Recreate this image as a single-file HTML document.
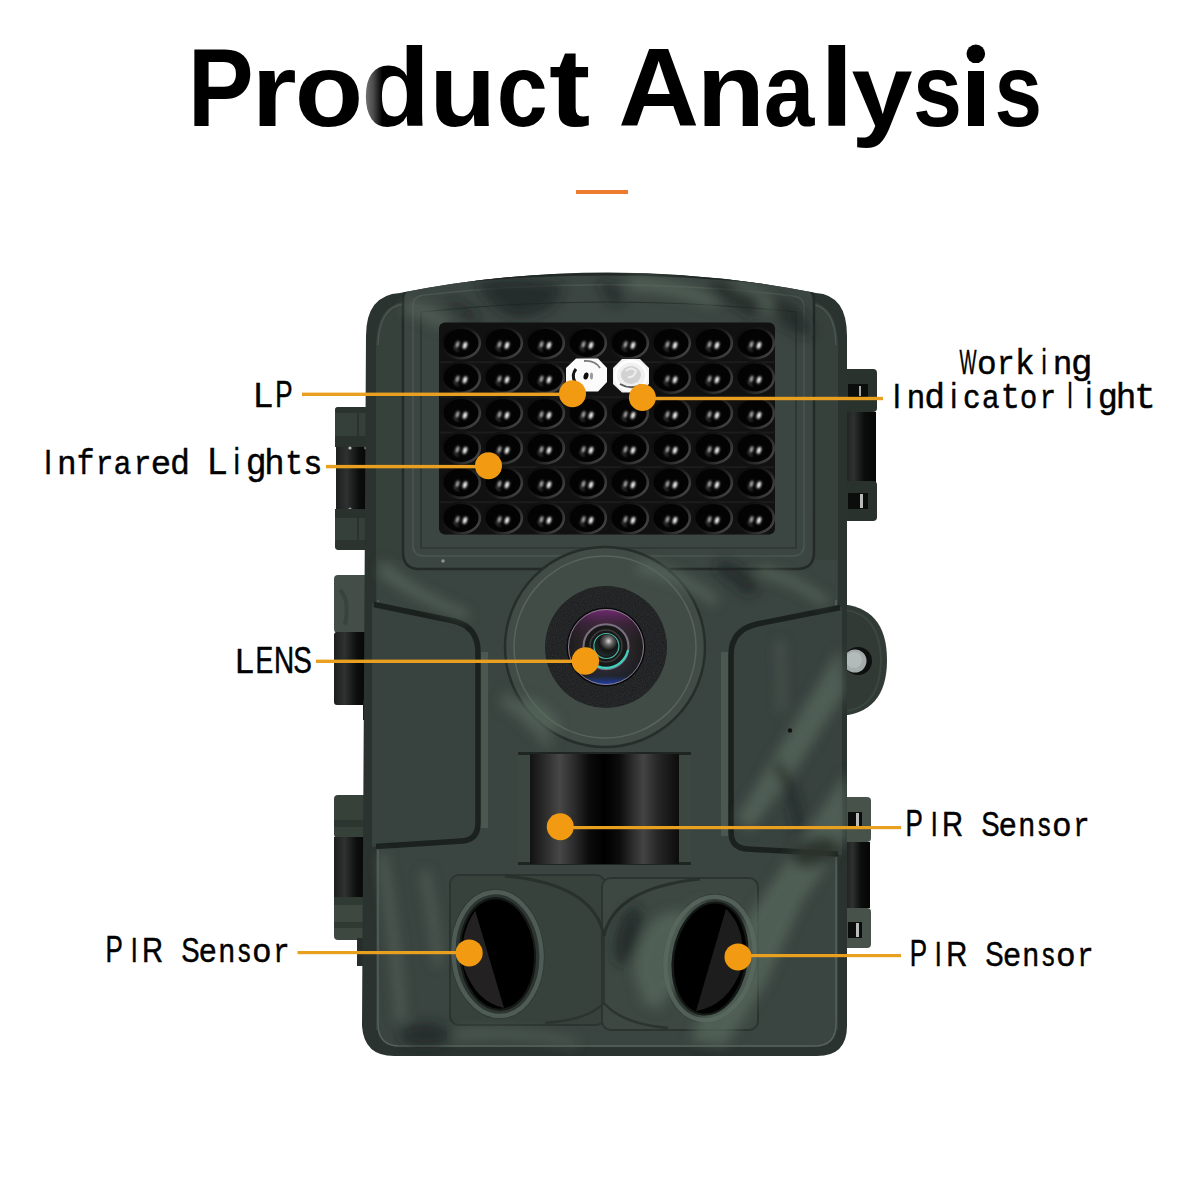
<!DOCTYPE html>
<html><head><meta charset="utf-8"><title>Product Analysis</title>
<style>
html,body{margin:0;padding:0;background:#fff;width:1200px;height:1200px;overflow:hidden}
svg{display:block}
text{font-family:"Liberation Sans",sans-serif}
</style></head><body>
<svg width="1200" height="1200" viewBox="0 0 1200 1200">
<defs>
  <linearGradient id="cyl" x1="0" x2="1" y1="0" y2="0">
    <stop offset="0" stop-color="#121212"/><stop offset="0.08" stop-color="#262626"/>
    <stop offset="0.2" stop-color="#474747"/><stop offset="0.3" stop-color="#2a2a2a"/>
    <stop offset="0.4" stop-color="#0a0a0a"/><stop offset="0.5" stop-color="#000"/>
    <stop offset="0.6" stop-color="#0c0c0c"/><stop offset="0.7" stop-color="#303030"/>
    <stop offset="0.76" stop-color="#444"/><stop offset="0.86" stop-color="#262626"/>
    <stop offset="1" stop-color="#0c0c0c"/>
  </linearGradient>
  <linearGradient id="hcyl" x1="0" x2="1" y1="0" y2="0">
    <stop offset="0" stop-color="#1c1f1e"/><stop offset="0.3" stop-color="#2d3130"/>
    <stop offset="0.65" stop-color="#0b0c0c"/><stop offset="1" stop-color="#050505"/>
  </linearGradient>
  <radialGradient id="led" cx="0.5" cy="0.5" r="0.5">
    <stop offset="0" stop-color="#000"/><stop offset="0.8" stop-color="#040404"/>
    <stop offset="0.9" stop-color="#353535"/><stop offset="1" stop-color="#0e0e0e"/>
  </radialGradient>
  <radialGradient id="glass" cx="0.5" cy="0.5" r="0.5">
    <stop offset="0" stop-color="#242021"/><stop offset="0.55" stop-color="#2c2729"/>
    <stop offset="1" stop-color="#1c1a1c"/>
  </radialGradient>
  <linearGradient id="glassTint" x1="0" x2="0" y1="0" y2="1">
    <stop offset="0" stop-color="#8a2f8a" stop-opacity="0.8"/>
    <stop offset="0.2" stop-color="#6a2a6a" stop-opacity="0.3"/>
    <stop offset="0.45" stop-color="#403038" stop-opacity="0.0"/>
    <stop offset="0.88" stop-color="#1a50a0" stop-opacity="0.1"/>
    <stop offset="1" stop-color="#2040d0" stop-opacity="0.9"/>
  </linearGradient>
  <radialGradient id="sphere" cx="0.6" cy="0.3" r="0.7">
    <stop offset="0" stop-color="#d8d8d8"/><stop offset="0.25" stop-color="#6a6a6a"/>
    <stop offset="0.6" stop-color="#151515"/><stop offset="1" stop-color="#1e2a28"/>
  </radialGradient>
  <linearGradient id="ring" x1="0" y1="0.2" x2="1" y2="0.8">
    <stop offset="0" stop-color="#0c0c0c"/><stop offset="0.5" stop-color="#181818"/><stop offset="0.8" stop-color="#333"/><stop offset="1" stop-color="#474747"/>
  </linearGradient>
  <filter id="sb" x="-80%" y="-80%" width="260%" height="260%"><feGaussianBlur stdDeviation="0.85"/></filter>
  <radialGradient id="foam" cx="0.5" cy="0.5" r="0.5">
    <stop offset="0.6" stop-color="#000"/><stop offset="0.85" stop-color="#2a2c2c"/><stop offset="1" stop-color="#000"/>
  </radialGradient>
  <linearGradient id="dgrad" gradientUnits="userSpaceOnUse" x1="0" y1="0" x2="16" y2="0">
    <stop offset="0" stop-color="#6e6e6e"/><stop offset="0.45" stop-color="#4a4a4a"/><stop offset="1" stop-color="#000"/>
  </linearGradient>
  <filter id="wb" x="-20%" y="-20%" width="140%" height="140%"><feGaussianBlur stdDeviation="0.6"/></filter>
  <filter id="noise" x="0" y="0" width="100%" height="100%">
    <feTurbulence type="fractalNoise" baseFrequency="0.9" numOctaves="2" seed="3" result="n"/>
    <feColorMatrix type="matrix" values="0 0 0 0 1  0 0 0 0 1  0 0 0 0 1  0 0 0 1.2 -0.3" in="n" result="a"/>
    <feComposite in="a" in2="SourceGraphic" operator="in"/>
  </filter>
  <filter id="blur6" x="-20%" y="-20%" width="140%" height="140%"><feGaussianBlur stdDeviation="6"/></filter>
  <filter id="blur3" x="-20%" y="-20%" width="140%" height="140%"><feGaussianBlur stdDeviation="3"/></filter>
  <clipPath id="bodyClip">
    <path d="M366 336 Q366 295 400 293 Q608 252 816 293 Q847 295 847 336 L847 1026 Q847 1056 817 1056 L394 1056 Q364 1056 362 1026 Z"/>
  </clipPath>
</defs>

<!-- Title -->
<g font-size="112" font-weight="bold">
<text transform="translate(194.90 126) scale(0.8825 1)" x="-8" y="0" fill="#000">P</text>
<text transform="translate(258.75 126) scale(1.0357 0.933)" x="-7" y="0" fill="#000">r</text>
<text transform="translate(298.75 126) scale(1.0000 0.933)" x="-4" y="0" fill="#000">o</text>
<text transform="translate(366.25 126) scale(1.0045 1)" x="-5" y="0" fill="url(#dgrad)">d</text>
<text transform="translate(436.25 126) scale(0.9722 0.933)" x="-7" y="0" fill="#000">u</text>
<text transform="translate(500.00 126) scale(0.8182 0.933)" x="-4" y="0" fill="#000">c</text>
<text transform="translate(550.00 126) scale(1.1071 1)" x="-1" y="0" fill="#000">t</text>
<text transform="translate(621.25 126) scale(1.0000 1)" x="-3" y="0" fill="#000">A</text>
<text transform="translate(703.75 126) scale(0.9954 0.933)" x="-7" y="0" fill="#000">n</text>
<text transform="translate(766.25 126) scale(0.8125 0.933)" x="-3" y="0" fill="#000">a</text>
<text transform="translate(828.75 126) scale(1.0833 1)" x="-8" y="0" fill="#000">l</text>
<text transform="translate(852.50 126) scale(0.9792 0.933)" x="-1" y="0" fill="#000">y</text>
<text transform="translate(916.25 126) scale(0.7870 0.933)" x="-4" y="0" fill="#000">s</text>
<rect x="968" y="71" width="16" height="55" fill="#000"/><circle cx="975.8" cy="53.8" r="9.3" fill="#000"/>
<text transform="translate(997.50 126) scale(0.7639 0.933)" x="-4" y="0" fill="#000">s</text>
</g>
<rect x="576" y="190" width="52" height="4" fill="#ef7b2e"/>

<!-- CAMERA -->
<g id="camera">
  <!-- left hinges -->
  <rect x="335" y="407" width="44" height="41" rx="4" fill="#35403a"/>
  <rect x="335" y="407" width="44" height="6" rx="3" fill="#2a332e"/>
  <rect x="335" y="436" width="44" height="11" fill="#29322d"/>
  <rect x="357" y="413" width="2" height="23" fill="#29322d"/>
  <rect x="336" y="447" width="36" height="63" fill="url(#hcyl)"/>
  <circle cx="350" cy="448" r="1.6" fill="#bbb"/><circle cx="366" cy="448" r="1.6" fill="#bbb"/>
  <circle cx="350" cy="509" r="1.6" fill="#999"/>
  <rect x="335" y="509" width="44" height="41" rx="4" fill="#35403a"/>
  <rect x="335" y="509" width="44" height="9" fill="#29322d"/>
  <rect x="357" y="518" width="2" height="22" fill="#29322d"/>
  <rect x="335" y="540" width="44" height="10" rx="4" fill="#2b342f"/>

  <rect x="334" y="575" width="40" height="58" rx="4" fill="#444e48"/>
  <path d="M340 590 Q350 600 345 625" stroke="#39433e" stroke-width="4" fill="none"/>
  <rect x="334" y="632" width="36" height="73" rx="3" fill="url(#hcyl)"/>
  <rect x="363" y="700" width="6" height="20" fill="#1a1d1c"/>

  <rect x="334" y="795" width="42" height="43" rx="4" fill="#36413a"/>
  <rect x="334" y="820" width="42" height="7" fill="#2c3630"/>
  <rect x="334" y="837" width="36" height="61" fill="url(#hcyl)"/>
  <rect x="334" y="897" width="42" height="43" rx="4" fill="#3d4841"/>
  <rect x="334" y="897" width="42" height="8" fill="#2f3a33"/>
  <rect x="334" y="922" width="42" height="6" fill="#2f3a33"/>
  <rect x="357" y="938" width="10" height="28" fill="#262d2a"/>

  <!-- right hinges -->
  <rect x="836" y="369" width="41" height="43" rx="4" fill="#2a322d"/>
  <rect x="848" y="384" width="20" height="14" fill="#0b0c0c"/>
  <rect x="859" y="386" width="2" height="10" fill="#aaa"/>
  <rect x="844" y="412" width="32" height="70" fill="url(#hcyl)"/>
  <rect x="836" y="481" width="41" height="40" rx="4" fill="#2a322d"/>
  <rect x="848" y="493" width="20" height="16" fill="#0b0c0c"/>
  <rect x="860" y="494" width="3" height="14" fill="#bbb"/>

  <path d="M838 604 Q887 606 887 660 Q887 714 838 716 Z" fill="#313a35"/>
  <path d="M845 610 Q880 614 881 660 Q880 708 845 711" fill="none" stroke="#3c4640" stroke-width="2"/>
  <circle cx="858" cy="661" r="14" fill="#0e0f0f"/>
  <circle cx="855" cy="661" r="11.5" fill="#a3acab"/>
  <circle cx="854" cy="660" r="8" fill="#b3bbba"/>

  <rect x="842" y="797" width="29" height="45" rx="4" fill="#46524a"/>
  <rect x="848" y="812" width="14" height="16" fill="#0b0c0c"/>
  <rect x="856" y="813" width="3" height="14" fill="#bbb"/>
  <rect x="845" y="842" width="25" height="66" fill="url(#hcyl)"/>
  <rect x="842" y="908" width="29" height="40" rx="4" fill="#46524a"/>
  <rect x="848" y="922" width="14" height="16" fill="#0b0c0c"/>
  <rect x="856" y="923" width="3" height="14" fill="#bbb"/>

  <!-- outer body -->
  <path d="M366 336 Q366 295 400 293 Q608 252 816 293 Q847 295 847 336 L847 1026 Q847 1056 817 1056 L394 1056 Q364 1056 362 1026 Z" fill="#2b3330"/>

  <g clip-path="url(#bodyClip)">
    <!-- ===== plastic layer ===== -->
    <path d="M376 345 Q377 304 405 302 L810 302 Q837 304 838 345 L838 1030 L376 1030 Z" fill="#37413c"/>
    <path d="M378 345 Q379 306 405 304" fill="none" stroke="#4a5550" stroke-width="1.5"/>
    <path d="M836 345 Q835 306 810 304" fill="none" stroke="#4a5550" stroke-width="1.5"/>
    <path d="M378 560 L837 560 L837 1024 Q837 1047 814 1047 L401 1047 Q378 1047 378 1024 Z" fill="#3a4440"/>
    <path d="M378 600 L378 1024 Q378 1046 400 1046 L814 1046 Q836 1046 836 1024 L836 600" fill="none" stroke="#56615b" stroke-width="1.5"/>
    <!-- top front cover -->
    <path d="M403 300 Q403 287 416 286 Q608 262 801 287 Q814 288 814 301 L814 552 Q814 569 797 569 L419 569 Q403 569 403 552 Z" fill="#3b4541" stroke="#232a27" stroke-width="2.5"/>
    <path d="M413 306 Q413 296 424 295 Q608 274 793 296 Q804 297 804 307 L804 545 Q804 556 793 556 L424 556 Q413 556 413 545 Z" fill="none" stroke="#4b5650" stroke-width="1.5"/>
    <path d="M421 312 Q608 292 796 312 L796 548 L421 548 Z" fill="none" stroke="#29302c" stroke-width="1.2"/>
    <!-- wings -->
    <path d="M484 652 L484 828" stroke="#4b5751" stroke-width="8" fill="none"/>
    <path d="M725 652 L725 836" stroke="#4b5751" stroke-width="8" fill="none"/>
    <path d="M372 604 L454 621 Q478 627 478 652 L478 823 Q478 840 462 841 L372 847 Z" fill="#38423f"/>
    <path d="M374 604.5 L454 621 Q478 627 478 652 L478 823 Q478 840 462 841 L376 846.5" fill="none" stroke="#1b211e" stroke-width="5.5"/>
    <path d="M842 607 L757 624 Q731 630 731 655 L731 832 Q731 848 747 849 L842 855 Z" fill="#38423f"/>
    <path d="M840 607.5 L757 624 Q731 630 731 655 L731 832 Q731 848 747 849 L838 854" fill="none" stroke="#1b211e" stroke-width="5.5"/>
    <!-- lens housing -->
    <circle cx="605" cy="647" r="100" fill="#414c47" stroke="#262e2b" stroke-width="2.5"/>
    <circle cx="605" cy="647" r="91" fill="none" stroke="#57635c" stroke-width="1.5"/>
    <!-- PIR recess -->
    <rect x="518" y="752" width="173" height="113" fill="#3d4742"/>
    <!-- bottom sensor blocks -->
    <rect x="450" y="875" width="155" height="150" rx="9" fill="#37423d" stroke="#2b3430" stroke-width="2"/>
    <rect x="602" y="878" width="156" height="152" rx="9" fill="#3d4843" stroke="#2b3430" stroke-width="2"/>
    <path d="M505 876 Q594 884 604 936" fill="none" stroke="#29312d" stroke-width="3"/>
    <path d="M700 879 Q614 888 604 936" fill="none" stroke="#29312d" stroke-width="3"/>
    <line x1="604" y1="936" x2="604" y2="1003" stroke="#2e3632" stroke-width="2"/>
    <path d="M604 1003 Q588 1020 545 1023" fill="none" stroke="#2c3430" stroke-width="2.5"/>
    <path d="M604 1003 Q622 1024 668 1028" fill="none" stroke="#2c3430" stroke-width="2.5"/>
    <g transform="rotate(-4 497.5 954)">
      <ellipse cx="497.5" cy="954" rx="47" ry="65" fill="#2c3531"/>
      <ellipse cx="497.5" cy="954" rx="44" ry="62" fill="none" stroke="#4f5b55" stroke-width="4.5"/>
    </g>
    <g transform="rotate(9 710 958.5)">
      <ellipse cx="710" cy="958.5" rx="47" ry="65" fill="#2f3934"/>
      <ellipse cx="710" cy="958.5" rx="44" ry="62" fill="none" stroke="#53605a" stroke-width="4.5"/>
    </g>

    <!-- ===== camo layer ===== -->
    <g filter="url(#blur6)">
      <g fill="#5b6a5e" opacity="0.7">
        <path d="M690 1040 L740 930 L800 842 L846 772 L848 835 L802 902 L765 985 L725 1046 Z"/>
        <path d="M737 817 L790 730 L840 648 L845 692 L797 768 L750 832 Z"/>
        <path d="M640 1000 Q665 930 700 900 L712 915 Q680 950 660 1010 Z"/>
        <ellipse cx="665" cy="955" rx="28" ry="45" transform="rotate(20 665 955)"/>
        <ellipse cx="540" cy="715" rx="24" ry="9" transform="rotate(40 540 715)"/>
        <path d="M630 276 Q680 278 720 300 L712 308 Q675 292 628 290 Z"/>
        <path d="M735 280 Q770 290 790 320 L780 322 Q760 300 730 292 Z"/>
        <path d="M382 560 Q420 592 470 612 L466 620 Q420 604 380 576 Z"/>
        <path d="M640 560 Q690 570 720 600 L712 606 Q680 580 636 572 Z"/>
        <path d="M760 565 Q800 575 830 600 L822 606 Q795 585 756 575 Z"/>
      </g>
      <g fill="#58665c" opacity="0.65">
        <path d="M386 850 Q400 930 406 1020 L396 1022 Q390 935 378 860 Z"/>
        <path d="M428 868 Q440 920 442 965 L434 966 Q430 920 420 874 Z"/>
        <path d="M405 300 Q430 300 452 322 L440 330 Q420 315 405 315 Z"/>
        <path d="M505 690 Q530 710 555 745 L545 748 Q525 720 500 705 Z"/>
        <path d="M455 1030 Q520 1025 580 1040 L575 1046 Q520 1034 455 1040 Z"/>
        <path d="M777 640 L783 640 L784 712 L779 712 Z"/>
      </g>
      <g fill="#1d2521" opacity="0.7">
        <path d="M478 282 Q520 276 562 285 Q560 315 515 318 Q485 305 478 282 Z"/>
        <path d="M712 282 Q740 285 762 300 L752 318 Q730 300 708 292 Z"/>
        <path d="M450 300 Q470 305 480 320 L470 322 Q460 310 445 306 Z"/>
        <path d="M598 282 Q615 280 625 300 L612 305 Z"/>
        <path d="M770 298 Q805 300 812 335 Q795 338 775 318 Z"/>
        <path d="M720 560 Q745 565 760 590 L745 595 Q730 578 715 572 Z"/>
        <ellipse cx="815" cy="852" rx="25" ry="14" transform="rotate(-20 815 852)"/>
        <ellipse cx="425" cy="1035" rx="25" ry="12"/>
        <ellipse cx="628" cy="935" rx="12" ry="30" transform="rotate(15 628 935)"/>
        <path d="M780 760 Q800 790 805 830 L795 832 Q790 795 772 765 Z"/>
      </g>
    </g>

    <!-- ===== dark components ===== -->
    <!-- LED panel -->
    <rect x="439" y="322.5" width="336" height="212" rx="6" fill="#111"/>
    <g id="leds">
<rect x="440" y="361.2" width="334" height="2" fill="#1c1c1c"/>
<rect x="440" y="396.2" width="334" height="2" fill="#1c1c1c"/>
<rect x="440" y="431.5" width="334" height="2" fill="#1c1c1c"/>
<rect x="440" y="466.2" width="334" height="2" fill="#1c1c1c"/>
<rect x="440" y="501.2" width="334" height="2" fill="#1c1c1c"/>
<ellipse cx="461" cy="343.0" rx="18.8" ry="15.2" fill="#030303" stroke="url(#ring)" stroke-width="2.6"/>
<ellipse cx="457.4" cy="344.5" rx="1.7" ry="3.6" fill="#b0b0b0" filter="url(#sb)" transform="rotate(20 457.4 344.5)"/>
<path d="M454 346.5 Q455 350.5 459 351.0" fill="none" stroke="#444" stroke-width="1.2" filter="url(#sb)"/>
<ellipse cx="465.0" cy="345.3" rx="2" ry="3.6" fill="#f6f6f6" filter="url(#sb)" transform="rotate(20 465.0 345.3)"/>
<ellipse cx="503" cy="343.0" rx="18.8" ry="15.2" fill="#030303" stroke="url(#ring)" stroke-width="2.6"/>
<ellipse cx="499.4" cy="344.5" rx="1.7" ry="3.6" fill="#b0b0b0" filter="url(#sb)" transform="rotate(20 499.4 344.5)"/>
<path d="M496 346.5 Q497 350.5 501 351.0" fill="none" stroke="#444" stroke-width="1.2" filter="url(#sb)"/>
<ellipse cx="507.0" cy="345.3" rx="2" ry="3.6" fill="#f6f6f6" filter="url(#sb)" transform="rotate(20 507.0 345.3)"/>
<ellipse cx="545" cy="343.0" rx="18.8" ry="15.2" fill="#030303" stroke="url(#ring)" stroke-width="2.6"/>
<ellipse cx="541.4" cy="344.5" rx="1.7" ry="3.6" fill="#b0b0b0" filter="url(#sb)" transform="rotate(20 541.4 344.5)"/>
<path d="M538 346.5 Q539 350.5 543 351.0" fill="none" stroke="#444" stroke-width="1.2" filter="url(#sb)"/>
<ellipse cx="549.0" cy="345.3" rx="2" ry="3.6" fill="#f6f6f6" filter="url(#sb)" transform="rotate(20 549.0 345.3)"/>
<ellipse cx="587" cy="343.0" rx="18.8" ry="15.2" fill="#030303" stroke="url(#ring)" stroke-width="2.6"/>
<ellipse cx="583.4" cy="344.5" rx="1.7" ry="3.6" fill="#b0b0b0" filter="url(#sb)" transform="rotate(20 583.4 344.5)"/>
<path d="M580 346.5 Q581 350.5 585 351.0" fill="none" stroke="#444" stroke-width="1.2" filter="url(#sb)"/>
<ellipse cx="591.0" cy="345.3" rx="2" ry="3.6" fill="#f6f6f6" filter="url(#sb)" transform="rotate(20 591.0 345.3)"/>
<ellipse cx="629" cy="343.0" rx="18.8" ry="15.2" fill="#030303" stroke="url(#ring)" stroke-width="2.6"/>
<ellipse cx="625.4" cy="344.5" rx="1.7" ry="3.6" fill="#b0b0b0" filter="url(#sb)" transform="rotate(20 625.4 344.5)"/>
<path d="M622 346.5 Q623 350.5 627 351.0" fill="none" stroke="#444" stroke-width="1.2" filter="url(#sb)"/>
<ellipse cx="633.0" cy="345.3" rx="2" ry="3.6" fill="#f6f6f6" filter="url(#sb)" transform="rotate(20 633.0 345.3)"/>
<ellipse cx="671" cy="343.0" rx="18.8" ry="15.2" fill="#030303" stroke="url(#ring)" stroke-width="2.6"/>
<ellipse cx="667.4" cy="344.5" rx="1.7" ry="3.6" fill="#b0b0b0" filter="url(#sb)" transform="rotate(20 667.4 344.5)"/>
<path d="M664 346.5 Q665 350.5 669 351.0" fill="none" stroke="#444" stroke-width="1.2" filter="url(#sb)"/>
<ellipse cx="675.0" cy="345.3" rx="2" ry="3.6" fill="#f6f6f6" filter="url(#sb)" transform="rotate(20 675.0 345.3)"/>
<ellipse cx="713" cy="343.0" rx="18.8" ry="15.2" fill="#030303" stroke="url(#ring)" stroke-width="2.6"/>
<ellipse cx="709.4" cy="344.5" rx="1.7" ry="3.6" fill="#b0b0b0" filter="url(#sb)" transform="rotate(20 709.4 344.5)"/>
<path d="M706 346.5 Q707 350.5 711 351.0" fill="none" stroke="#444" stroke-width="1.2" filter="url(#sb)"/>
<ellipse cx="717.0" cy="345.3" rx="2" ry="3.6" fill="#f6f6f6" filter="url(#sb)" transform="rotate(20 717.0 345.3)"/>
<ellipse cx="755" cy="343.0" rx="18.8" ry="15.2" fill="#030303" stroke="url(#ring)" stroke-width="2.6"/>
<ellipse cx="751.4" cy="344.5" rx="1.7" ry="3.6" fill="#b0b0b0" filter="url(#sb)" transform="rotate(20 751.4 344.5)"/>
<path d="M748 346.5 Q749 350.5 753 351.0" fill="none" stroke="#444" stroke-width="1.2" filter="url(#sb)"/>
<ellipse cx="759.0" cy="345.3" rx="2" ry="3.6" fill="#f6f6f6" filter="url(#sb)" transform="rotate(20 759.0 345.3)"/>
<ellipse cx="461" cy="377.5" rx="18.8" ry="15.2" fill="#030303" stroke="url(#ring)" stroke-width="2.6"/>
<ellipse cx="457.4" cy="379" rx="1.7" ry="3.6" fill="#b0b0b0" filter="url(#sb)" transform="rotate(20 457.4 379)"/>
<path d="M454 381 Q455 385 459 385.5" fill="none" stroke="#444" stroke-width="1.2" filter="url(#sb)"/>
<ellipse cx="465.0" cy="379.8" rx="2" ry="3.6" fill="#f6f6f6" filter="url(#sb)" transform="rotate(20 465.0 379.8)"/>
<ellipse cx="503" cy="377.5" rx="18.8" ry="15.2" fill="#030303" stroke="url(#ring)" stroke-width="2.6"/>
<ellipse cx="499.4" cy="379" rx="1.7" ry="3.6" fill="#b0b0b0" filter="url(#sb)" transform="rotate(20 499.4 379)"/>
<path d="M496 381 Q497 385 501 385.5" fill="none" stroke="#444" stroke-width="1.2" filter="url(#sb)"/>
<ellipse cx="507.0" cy="379.8" rx="2" ry="3.6" fill="#f6f6f6" filter="url(#sb)" transform="rotate(20 507.0 379.8)"/>
<ellipse cx="545" cy="377.5" rx="18.8" ry="15.2" fill="#030303" stroke="url(#ring)" stroke-width="2.6"/>
<ellipse cx="541.4" cy="379" rx="1.7" ry="3.6" fill="#b0b0b0" filter="url(#sb)" transform="rotate(20 541.4 379)"/>
<path d="M538 381 Q539 385 543 385.5" fill="none" stroke="#444" stroke-width="1.2" filter="url(#sb)"/>
<ellipse cx="549.0" cy="379.8" rx="2" ry="3.6" fill="#f6f6f6" filter="url(#sb)" transform="rotate(20 549.0 379.8)"/>
<ellipse cx="671" cy="377.5" rx="18.8" ry="15.2" fill="#030303" stroke="url(#ring)" stroke-width="2.6"/>
<ellipse cx="667.4" cy="379" rx="1.7" ry="3.6" fill="#b0b0b0" filter="url(#sb)" transform="rotate(20 667.4 379)"/>
<path d="M664 381 Q665 385 669 385.5" fill="none" stroke="#444" stroke-width="1.2" filter="url(#sb)"/>
<ellipse cx="675.0" cy="379.8" rx="2" ry="3.6" fill="#f6f6f6" filter="url(#sb)" transform="rotate(20 675.0 379.8)"/>
<ellipse cx="713" cy="377.5" rx="18.8" ry="15.2" fill="#030303" stroke="url(#ring)" stroke-width="2.6"/>
<ellipse cx="709.4" cy="379" rx="1.7" ry="3.6" fill="#b0b0b0" filter="url(#sb)" transform="rotate(20 709.4 379)"/>
<path d="M706 381 Q707 385 711 385.5" fill="none" stroke="#444" stroke-width="1.2" filter="url(#sb)"/>
<ellipse cx="717.0" cy="379.8" rx="2" ry="3.6" fill="#f6f6f6" filter="url(#sb)" transform="rotate(20 717.0 379.8)"/>
<ellipse cx="755" cy="377.5" rx="18.8" ry="15.2" fill="#030303" stroke="url(#ring)" stroke-width="2.6"/>
<ellipse cx="751.4" cy="379" rx="1.7" ry="3.6" fill="#b0b0b0" filter="url(#sb)" transform="rotate(20 751.4 379)"/>
<path d="M748 381 Q749 385 753 385.5" fill="none" stroke="#444" stroke-width="1.2" filter="url(#sb)"/>
<ellipse cx="759.0" cy="379.8" rx="2" ry="3.6" fill="#f6f6f6" filter="url(#sb)" transform="rotate(20 759.0 379.8)"/>
<ellipse cx="461" cy="413.0" rx="18.8" ry="15.2" fill="#030303" stroke="url(#ring)" stroke-width="2.6"/>
<ellipse cx="457.4" cy="414.5" rx="1.7" ry="3.6" fill="#b0b0b0" filter="url(#sb)" transform="rotate(20 457.4 414.5)"/>
<path d="M454 416.5 Q455 420.5 459 421.0" fill="none" stroke="#444" stroke-width="1.2" filter="url(#sb)"/>
<ellipse cx="465.0" cy="415.3" rx="2" ry="3.6" fill="#f6f6f6" filter="url(#sb)" transform="rotate(20 465.0 415.3)"/>
<ellipse cx="503" cy="413.0" rx="18.8" ry="15.2" fill="#030303" stroke="url(#ring)" stroke-width="2.6"/>
<ellipse cx="499.4" cy="414.5" rx="1.7" ry="3.6" fill="#b0b0b0" filter="url(#sb)" transform="rotate(20 499.4 414.5)"/>
<path d="M496 416.5 Q497 420.5 501 421.0" fill="none" stroke="#444" stroke-width="1.2" filter="url(#sb)"/>
<ellipse cx="507.0" cy="415.3" rx="2" ry="3.6" fill="#f6f6f6" filter="url(#sb)" transform="rotate(20 507.0 415.3)"/>
<ellipse cx="545" cy="413.0" rx="18.8" ry="15.2" fill="#030303" stroke="url(#ring)" stroke-width="2.6"/>
<ellipse cx="541.4" cy="414.5" rx="1.7" ry="3.6" fill="#b0b0b0" filter="url(#sb)" transform="rotate(20 541.4 414.5)"/>
<path d="M538 416.5 Q539 420.5 543 421.0" fill="none" stroke="#444" stroke-width="1.2" filter="url(#sb)"/>
<ellipse cx="549.0" cy="415.3" rx="2" ry="3.6" fill="#f6f6f6" filter="url(#sb)" transform="rotate(20 549.0 415.3)"/>
<ellipse cx="587" cy="413.0" rx="18.8" ry="15.2" fill="#030303" stroke="url(#ring)" stroke-width="2.6"/>
<ellipse cx="583.4" cy="414.5" rx="1.7" ry="3.6" fill="#b0b0b0" filter="url(#sb)" transform="rotate(20 583.4 414.5)"/>
<path d="M580 416.5 Q581 420.5 585 421.0" fill="none" stroke="#444" stroke-width="1.2" filter="url(#sb)"/>
<ellipse cx="591.0" cy="415.3" rx="2" ry="3.6" fill="#f6f6f6" filter="url(#sb)" transform="rotate(20 591.0 415.3)"/>
<ellipse cx="629" cy="413.0" rx="18.8" ry="15.2" fill="#030303" stroke="url(#ring)" stroke-width="2.6"/>
<ellipse cx="625.4" cy="414.5" rx="1.7" ry="3.6" fill="#b0b0b0" filter="url(#sb)" transform="rotate(20 625.4 414.5)"/>
<path d="M622 416.5 Q623 420.5 627 421.0" fill="none" stroke="#444" stroke-width="1.2" filter="url(#sb)"/>
<ellipse cx="633.0" cy="415.3" rx="2" ry="3.6" fill="#f6f6f6" filter="url(#sb)" transform="rotate(20 633.0 415.3)"/>
<ellipse cx="671" cy="413.0" rx="18.8" ry="15.2" fill="#030303" stroke="url(#ring)" stroke-width="2.6"/>
<ellipse cx="667.4" cy="414.5" rx="1.7" ry="3.6" fill="#b0b0b0" filter="url(#sb)" transform="rotate(20 667.4 414.5)"/>
<path d="M664 416.5 Q665 420.5 669 421.0" fill="none" stroke="#444" stroke-width="1.2" filter="url(#sb)"/>
<ellipse cx="675.0" cy="415.3" rx="2" ry="3.6" fill="#f6f6f6" filter="url(#sb)" transform="rotate(20 675.0 415.3)"/>
<ellipse cx="713" cy="413.0" rx="18.8" ry="15.2" fill="#030303" stroke="url(#ring)" stroke-width="2.6"/>
<ellipse cx="709.4" cy="414.5" rx="1.7" ry="3.6" fill="#b0b0b0" filter="url(#sb)" transform="rotate(20 709.4 414.5)"/>
<path d="M706 416.5 Q707 420.5 711 421.0" fill="none" stroke="#444" stroke-width="1.2" filter="url(#sb)"/>
<ellipse cx="717.0" cy="415.3" rx="2" ry="3.6" fill="#f6f6f6" filter="url(#sb)" transform="rotate(20 717.0 415.3)"/>
<ellipse cx="755" cy="413.0" rx="18.8" ry="15.2" fill="#030303" stroke="url(#ring)" stroke-width="2.6"/>
<ellipse cx="751.4" cy="414.5" rx="1.7" ry="3.6" fill="#b0b0b0" filter="url(#sb)" transform="rotate(20 751.4 414.5)"/>
<path d="M748 416.5 Q749 420.5 753 421.0" fill="none" stroke="#444" stroke-width="1.2" filter="url(#sb)"/>
<ellipse cx="759.0" cy="415.3" rx="2" ry="3.6" fill="#f6f6f6" filter="url(#sb)" transform="rotate(20 759.0 415.3)"/>
<ellipse cx="461" cy="448.0" rx="18.8" ry="15.2" fill="#030303" stroke="url(#ring)" stroke-width="2.6"/>
<ellipse cx="457.4" cy="449.5" rx="1.7" ry="3.6" fill="#b0b0b0" filter="url(#sb)" transform="rotate(20 457.4 449.5)"/>
<path d="M454 451.5 Q455 455.5 459 456.0" fill="none" stroke="#444" stroke-width="1.2" filter="url(#sb)"/>
<ellipse cx="465.0" cy="450.3" rx="2" ry="3.6" fill="#f6f6f6" filter="url(#sb)" transform="rotate(20 465.0 450.3)"/>
<ellipse cx="503" cy="448.0" rx="18.8" ry="15.2" fill="#030303" stroke="url(#ring)" stroke-width="2.6"/>
<ellipse cx="499.4" cy="449.5" rx="1.7" ry="3.6" fill="#b0b0b0" filter="url(#sb)" transform="rotate(20 499.4 449.5)"/>
<path d="M496 451.5 Q497 455.5 501 456.0" fill="none" stroke="#444" stroke-width="1.2" filter="url(#sb)"/>
<ellipse cx="507.0" cy="450.3" rx="2" ry="3.6" fill="#f6f6f6" filter="url(#sb)" transform="rotate(20 507.0 450.3)"/>
<ellipse cx="545" cy="448.0" rx="18.8" ry="15.2" fill="#030303" stroke="url(#ring)" stroke-width="2.6"/>
<ellipse cx="541.4" cy="449.5" rx="1.7" ry="3.6" fill="#b0b0b0" filter="url(#sb)" transform="rotate(20 541.4 449.5)"/>
<path d="M538 451.5 Q539 455.5 543 456.0" fill="none" stroke="#444" stroke-width="1.2" filter="url(#sb)"/>
<ellipse cx="549.0" cy="450.3" rx="2" ry="3.6" fill="#f6f6f6" filter="url(#sb)" transform="rotate(20 549.0 450.3)"/>
<ellipse cx="587" cy="448.0" rx="18.8" ry="15.2" fill="#030303" stroke="url(#ring)" stroke-width="2.6"/>
<ellipse cx="583.4" cy="449.5" rx="1.7" ry="3.6" fill="#b0b0b0" filter="url(#sb)" transform="rotate(20 583.4 449.5)"/>
<path d="M580 451.5 Q581 455.5 585 456.0" fill="none" stroke="#444" stroke-width="1.2" filter="url(#sb)"/>
<ellipse cx="591.0" cy="450.3" rx="2" ry="3.6" fill="#f6f6f6" filter="url(#sb)" transform="rotate(20 591.0 450.3)"/>
<ellipse cx="629" cy="448.0" rx="18.8" ry="15.2" fill="#030303" stroke="url(#ring)" stroke-width="2.6"/>
<ellipse cx="625.4" cy="449.5" rx="1.7" ry="3.6" fill="#b0b0b0" filter="url(#sb)" transform="rotate(20 625.4 449.5)"/>
<path d="M622 451.5 Q623 455.5 627 456.0" fill="none" stroke="#444" stroke-width="1.2" filter="url(#sb)"/>
<ellipse cx="633.0" cy="450.3" rx="2" ry="3.6" fill="#f6f6f6" filter="url(#sb)" transform="rotate(20 633.0 450.3)"/>
<ellipse cx="671" cy="448.0" rx="18.8" ry="15.2" fill="#030303" stroke="url(#ring)" stroke-width="2.6"/>
<ellipse cx="667.4" cy="449.5" rx="1.7" ry="3.6" fill="#b0b0b0" filter="url(#sb)" transform="rotate(20 667.4 449.5)"/>
<path d="M664 451.5 Q665 455.5 669 456.0" fill="none" stroke="#444" stroke-width="1.2" filter="url(#sb)"/>
<ellipse cx="675.0" cy="450.3" rx="2" ry="3.6" fill="#f6f6f6" filter="url(#sb)" transform="rotate(20 675.0 450.3)"/>
<ellipse cx="713" cy="448.0" rx="18.8" ry="15.2" fill="#030303" stroke="url(#ring)" stroke-width="2.6"/>
<ellipse cx="709.4" cy="449.5" rx="1.7" ry="3.6" fill="#b0b0b0" filter="url(#sb)" transform="rotate(20 709.4 449.5)"/>
<path d="M706 451.5 Q707 455.5 711 456.0" fill="none" stroke="#444" stroke-width="1.2" filter="url(#sb)"/>
<ellipse cx="717.0" cy="450.3" rx="2" ry="3.6" fill="#f6f6f6" filter="url(#sb)" transform="rotate(20 717.0 450.3)"/>
<ellipse cx="755" cy="448.0" rx="18.8" ry="15.2" fill="#030303" stroke="url(#ring)" stroke-width="2.6"/>
<ellipse cx="751.4" cy="449.5" rx="1.7" ry="3.6" fill="#b0b0b0" filter="url(#sb)" transform="rotate(20 751.4 449.5)"/>
<path d="M748 451.5 Q749 455.5 753 456.0" fill="none" stroke="#444" stroke-width="1.2" filter="url(#sb)"/>
<ellipse cx="759.0" cy="450.3" rx="2" ry="3.6" fill="#f6f6f6" filter="url(#sb)" transform="rotate(20 759.0 450.3)"/>
<ellipse cx="461" cy="482.5" rx="18.8" ry="15.2" fill="#030303" stroke="url(#ring)" stroke-width="2.6"/>
<ellipse cx="457.4" cy="484" rx="1.7" ry="3.6" fill="#b0b0b0" filter="url(#sb)" transform="rotate(20 457.4 484)"/>
<path d="M454 486 Q455 490 459 490.5" fill="none" stroke="#444" stroke-width="1.2" filter="url(#sb)"/>
<ellipse cx="465.0" cy="484.8" rx="2" ry="3.6" fill="#f6f6f6" filter="url(#sb)" transform="rotate(20 465.0 484.8)"/>
<ellipse cx="503" cy="482.5" rx="18.8" ry="15.2" fill="#030303" stroke="url(#ring)" stroke-width="2.6"/>
<ellipse cx="499.4" cy="484" rx="1.7" ry="3.6" fill="#b0b0b0" filter="url(#sb)" transform="rotate(20 499.4 484)"/>
<path d="M496 486 Q497 490 501 490.5" fill="none" stroke="#444" stroke-width="1.2" filter="url(#sb)"/>
<ellipse cx="507.0" cy="484.8" rx="2" ry="3.6" fill="#f6f6f6" filter="url(#sb)" transform="rotate(20 507.0 484.8)"/>
<ellipse cx="545" cy="482.5" rx="18.8" ry="15.2" fill="#030303" stroke="url(#ring)" stroke-width="2.6"/>
<ellipse cx="541.4" cy="484" rx="1.7" ry="3.6" fill="#b0b0b0" filter="url(#sb)" transform="rotate(20 541.4 484)"/>
<path d="M538 486 Q539 490 543 490.5" fill="none" stroke="#444" stroke-width="1.2" filter="url(#sb)"/>
<ellipse cx="549.0" cy="484.8" rx="2" ry="3.6" fill="#f6f6f6" filter="url(#sb)" transform="rotate(20 549.0 484.8)"/>
<ellipse cx="587" cy="482.5" rx="18.8" ry="15.2" fill="#030303" stroke="url(#ring)" stroke-width="2.6"/>
<ellipse cx="583.4" cy="484" rx="1.7" ry="3.6" fill="#b0b0b0" filter="url(#sb)" transform="rotate(20 583.4 484)"/>
<path d="M580 486 Q581 490 585 490.5" fill="none" stroke="#444" stroke-width="1.2" filter="url(#sb)"/>
<ellipse cx="591.0" cy="484.8" rx="2" ry="3.6" fill="#f6f6f6" filter="url(#sb)" transform="rotate(20 591.0 484.8)"/>
<ellipse cx="629" cy="482.5" rx="18.8" ry="15.2" fill="#030303" stroke="url(#ring)" stroke-width="2.6"/>
<ellipse cx="625.4" cy="484" rx="1.7" ry="3.6" fill="#b0b0b0" filter="url(#sb)" transform="rotate(20 625.4 484)"/>
<path d="M622 486 Q623 490 627 490.5" fill="none" stroke="#444" stroke-width="1.2" filter="url(#sb)"/>
<ellipse cx="633.0" cy="484.8" rx="2" ry="3.6" fill="#f6f6f6" filter="url(#sb)" transform="rotate(20 633.0 484.8)"/>
<ellipse cx="671" cy="482.5" rx="18.8" ry="15.2" fill="#030303" stroke="url(#ring)" stroke-width="2.6"/>
<ellipse cx="667.4" cy="484" rx="1.7" ry="3.6" fill="#b0b0b0" filter="url(#sb)" transform="rotate(20 667.4 484)"/>
<path d="M664 486 Q665 490 669 490.5" fill="none" stroke="#444" stroke-width="1.2" filter="url(#sb)"/>
<ellipse cx="675.0" cy="484.8" rx="2" ry="3.6" fill="#f6f6f6" filter="url(#sb)" transform="rotate(20 675.0 484.8)"/>
<ellipse cx="713" cy="482.5" rx="18.8" ry="15.2" fill="#030303" stroke="url(#ring)" stroke-width="2.6"/>
<ellipse cx="709.4" cy="484" rx="1.7" ry="3.6" fill="#b0b0b0" filter="url(#sb)" transform="rotate(20 709.4 484)"/>
<path d="M706 486 Q707 490 711 490.5" fill="none" stroke="#444" stroke-width="1.2" filter="url(#sb)"/>
<ellipse cx="717.0" cy="484.8" rx="2" ry="3.6" fill="#f6f6f6" filter="url(#sb)" transform="rotate(20 717.0 484.8)"/>
<ellipse cx="755" cy="482.5" rx="18.8" ry="15.2" fill="#030303" stroke="url(#ring)" stroke-width="2.6"/>
<ellipse cx="751.4" cy="484" rx="1.7" ry="3.6" fill="#b0b0b0" filter="url(#sb)" transform="rotate(20 751.4 484)"/>
<path d="M748 486 Q749 490 753 490.5" fill="none" stroke="#444" stroke-width="1.2" filter="url(#sb)"/>
<ellipse cx="759.0" cy="484.8" rx="2" ry="3.6" fill="#f6f6f6" filter="url(#sb)" transform="rotate(20 759.0 484.8)"/>
<ellipse cx="461" cy="518.0" rx="18.8" ry="15.2" fill="#030303" stroke="url(#ring)" stroke-width="2.6"/>
<ellipse cx="457.4" cy="519.5" rx="1.7" ry="3.6" fill="#b0b0b0" filter="url(#sb)" transform="rotate(20 457.4 519.5)"/>
<path d="M454 521.5 Q455 525.5 459 526.0" fill="none" stroke="#444" stroke-width="1.2" filter="url(#sb)"/>
<ellipse cx="465.0" cy="520.3" rx="2" ry="3.6" fill="#f6f6f6" filter="url(#sb)" transform="rotate(20 465.0 520.3)"/>
<ellipse cx="503" cy="518.0" rx="18.8" ry="15.2" fill="#030303" stroke="url(#ring)" stroke-width="2.6"/>
<ellipse cx="499.4" cy="519.5" rx="1.7" ry="3.6" fill="#b0b0b0" filter="url(#sb)" transform="rotate(20 499.4 519.5)"/>
<path d="M496 521.5 Q497 525.5 501 526.0" fill="none" stroke="#444" stroke-width="1.2" filter="url(#sb)"/>
<ellipse cx="507.0" cy="520.3" rx="2" ry="3.6" fill="#f6f6f6" filter="url(#sb)" transform="rotate(20 507.0 520.3)"/>
<ellipse cx="545" cy="518.0" rx="18.8" ry="15.2" fill="#030303" stroke="url(#ring)" stroke-width="2.6"/>
<ellipse cx="541.4" cy="519.5" rx="1.7" ry="3.6" fill="#b0b0b0" filter="url(#sb)" transform="rotate(20 541.4 519.5)"/>
<path d="M538 521.5 Q539 525.5 543 526.0" fill="none" stroke="#444" stroke-width="1.2" filter="url(#sb)"/>
<ellipse cx="549.0" cy="520.3" rx="2" ry="3.6" fill="#f6f6f6" filter="url(#sb)" transform="rotate(20 549.0 520.3)"/>
<ellipse cx="587" cy="518.0" rx="18.8" ry="15.2" fill="#030303" stroke="url(#ring)" stroke-width="2.6"/>
<ellipse cx="583.4" cy="519.5" rx="1.7" ry="3.6" fill="#b0b0b0" filter="url(#sb)" transform="rotate(20 583.4 519.5)"/>
<path d="M580 521.5 Q581 525.5 585 526.0" fill="none" stroke="#444" stroke-width="1.2" filter="url(#sb)"/>
<ellipse cx="591.0" cy="520.3" rx="2" ry="3.6" fill="#f6f6f6" filter="url(#sb)" transform="rotate(20 591.0 520.3)"/>
<ellipse cx="629" cy="518.0" rx="18.8" ry="15.2" fill="#030303" stroke="url(#ring)" stroke-width="2.6"/>
<ellipse cx="625.4" cy="519.5" rx="1.7" ry="3.6" fill="#b0b0b0" filter="url(#sb)" transform="rotate(20 625.4 519.5)"/>
<path d="M622 521.5 Q623 525.5 627 526.0" fill="none" stroke="#444" stroke-width="1.2" filter="url(#sb)"/>
<ellipse cx="633.0" cy="520.3" rx="2" ry="3.6" fill="#f6f6f6" filter="url(#sb)" transform="rotate(20 633.0 520.3)"/>
<ellipse cx="671" cy="518.0" rx="18.8" ry="15.2" fill="#030303" stroke="url(#ring)" stroke-width="2.6"/>
<ellipse cx="667.4" cy="519.5" rx="1.7" ry="3.6" fill="#b0b0b0" filter="url(#sb)" transform="rotate(20 667.4 519.5)"/>
<path d="M664 521.5 Q665 525.5 669 526.0" fill="none" stroke="#444" stroke-width="1.2" filter="url(#sb)"/>
<ellipse cx="675.0" cy="520.3" rx="2" ry="3.6" fill="#f6f6f6" filter="url(#sb)" transform="rotate(20 675.0 520.3)"/>
<ellipse cx="713" cy="518.0" rx="18.8" ry="15.2" fill="#030303" stroke="url(#ring)" stroke-width="2.6"/>
<ellipse cx="709.4" cy="519.5" rx="1.7" ry="3.6" fill="#b0b0b0" filter="url(#sb)" transform="rotate(20 709.4 519.5)"/>
<path d="M706 521.5 Q707 525.5 711 526.0" fill="none" stroke="#444" stroke-width="1.2" filter="url(#sb)"/>
<ellipse cx="717.0" cy="520.3" rx="2" ry="3.6" fill="#f6f6f6" filter="url(#sb)" transform="rotate(20 717.0 520.3)"/>
<ellipse cx="755" cy="518.0" rx="18.8" ry="15.2" fill="#030303" stroke="url(#ring)" stroke-width="2.6"/>
<ellipse cx="751.4" cy="519.5" rx="1.7" ry="3.6" fill="#b0b0b0" filter="url(#sb)" transform="rotate(20 751.4 519.5)"/>
<path d="M748 521.5 Q749 525.5 753 526.0" fill="none" stroke="#444" stroke-width="1.2" filter="url(#sb)"/>
<ellipse cx="759.0" cy="520.3" rx="2" ry="3.6" fill="#f6f6f6" filter="url(#sb)" transform="rotate(20 759.0 520.3)"/>
<g filter="url(#wb)">
<path d="M576 358.5 L598 358.5 L607 368 L607 382 L598 391.5 L576 391.5 L566 382 L566 368 Z" fill="#fbfbfb"/>
<path d="M584 361 Q595 360 600 368" fill="none" stroke="#7a7a7a" stroke-width="1.8"/>
<path d="M576 369 Q571 375 575 382" fill="none" stroke="#151515" stroke-width="3"/>
<ellipse cx="586" cy="376" rx="2.4" ry="3.6" fill="#0a0a0a" transform="rotate(15 586 376)"/>
<ellipse cx="591.5" cy="376" rx="1.5" ry="3.5" fill="#9a9a9a"/>
<path d="M622 359 L640 359 L649 368 L649 384 L640 392.5 L622 392.5 L613 384 L613 368 Z" fill="#f0f0f0"/>
<ellipse cx="631" cy="375.8" rx="15.5" ry="14.5" fill="none" stroke="#fdfdfd" stroke-width="3"/>
<ellipse cx="631" cy="375" rx="10" ry="9" fill="#d2d2d2"/>
<path d="M626 371 Q631 366 636 371 Q634 378 628 377" fill="none" stroke="#eee" stroke-width="2"/>
<path d="M620 384 Q630 390 641 385" fill="none" stroke="#5a5a5a" stroke-width="2"/>
</g>
    </g>
    <!-- lens -->
    <circle cx="606" cy="647" r="61" fill="#1c1e1f"/>
    <circle cx="606" cy="647" r="61" fill="#fff" filter="url(#noise)" opacity="0.10"/>
    <circle cx="606" cy="647" r="39.5" fill="#0a0a0a"/>
    <circle cx="606" cy="647" r="38" fill="url(#glass)"/>
    <circle cx="606" cy="647" r="38" fill="url(#glassTint)"/>
    <circle cx="606" cy="647" r="37.5" fill="none" stroke="#8c8090" stroke-width="1"/>
    <circle cx="606" cy="646.7" r="22.5" fill="#181818" stroke="#7a7080" stroke-width="2"/>
    <path d="M584 650 A22.5 22.5 0 0 0 628 650" fill="none" stroke="#3fd0c0" stroke-width="2.2"/>
    <circle cx="606" cy="646" r="16" fill="none" stroke="#3c3c3c" stroke-width="1.5"/>
    <circle cx="606.4" cy="646" r="12.5" fill="none" stroke="#48b8a8" stroke-width="1.2"/>
    <circle cx="606.4" cy="645.5" r="11" fill="url(#sphere)"/>
    <!-- PIR cylinder -->
    <rect x="518" y="752" width="173" height="3" fill="#1f2622"/>
    <rect x="518" y="862" width="173" height="3" fill="#1f2622"/>
    <rect x="530" y="754" width="149" height="110" fill="url(#cyl)"/>
    <!-- sensor lenses -->
    <g transform="rotate(-4 497.5 954)">
      <ellipse cx="497.5" cy="954" rx="38.5" ry="57" fill="#141816"/>
      <ellipse cx="497.5" cy="954" rx="36.5" ry="54.7" fill="#000"/>
    </g>
    <path d="M475.3 910.7 L504 1008 Q476 1002 464 968 Q458 935 475.3 910.7 Z" fill="#242122"/>
    <g transform="rotate(9 710 958.5)">
      <ellipse cx="710" cy="958.5" rx="38" ry="57.5" fill="#141816"/>
      <ellipse cx="710" cy="958.5" rx="35.5" ry="55.5" fill="#000"/>
    </g>
    <path d="M726 908.7 L696 1011.3 Q728 1005 741 970 Q748 930 726 908.7 Z" fill="#1e1d1e"/>

    <!-- small details -->
    <circle cx="790" cy="730.5" r="2.2" fill="#111"/>
    <circle cx="443" cy="561" r="1.8" fill="#8a8f8c"/>
  </g>
</g>

<!-- LABELS -->
<g id="labels" fill="#000" stroke="#000" stroke-width="0.5" font-size="36">
<text transform="translate(264.00 407) scale(0.938 1)" x="-11.00" y="0">L</text>
<text transform="translate(284.20 407) scale(0.721 1)" x="-12.50" y="0">P</text>
<text transform="translate(48.10 474.3) scale(0.812 1)" x="-5.00" y="0">I</text>
<text transform="translate(66.90 474.3) scale(0.906 0.91)" x="-10.00" y="0">n</text>
<text style="font-family:'Liberation Mono'" transform="translate(85.30 474.3) scale(0.818 1)" x="-10.50" y="0">f</text>
<text style="font-family:'Liberation Mono'" transform="translate(104.70 474.3) scale(0.814 0.91)" x="-11.00" y="0">r</text>
<text transform="translate(123.10 474.3) scale(0.806 0.91)" x="-11.00" y="0">a</text>
<text style="font-family:'Liberation Mono'" transform="translate(142.80 474.3) scale(0.814 0.91)" x="-11.00" y="0">r</text>
<text transform="translate(160.90 474.3) scale(0.944 0.91)" x="-10.00" y="0">e</text>
<text transform="translate(180.00 474.3) scale(0.906 1)" x="-10.00" y="0">d</text>
<text transform="translate(218.30 474.3) scale(0.956 1)" x="-11.00" y="0">L</text>
<text transform="translate(236.70 474.3) scale(0.750 1)" x="-4.00" y="0">i</text>
<text transform="translate(256.20 474.3) scale(0.956 1)" x="-10.00" y="0">g</text>
<text transform="translate(274.90 474.3) scale(0.940 1)" x="-10.50" y="0">h</text>
<text style="font-family:'Liberation Mono'" transform="translate(293.90 474.3) scale(0.820 1)" x="-10.50" y="0">t</text>
<text transform="translate(312.80 474.3) scale(0.881 0.91)" x="-9.00" y="0">s</text>
<text transform="translate(245.40 673) scale(0.919 1)" x="-11.00" y="0">L</text>
<text transform="translate(264.75 673) scale(0.737 1)" x="-12.50" y="0">E</text>
<text transform="translate(284.00 673) scale(0.775 1)" x="-13.00" y="0">N</text>
<text transform="translate(302.50 673) scale(0.775 1)" x="-12.00" y="0">S</text>
<text transform="translate(968.10 373.5) scale(0.500 1)" x="-17.00" y="0">W</text>
<text transform="translate(986.90 373.5) scale(0.906 0.91)" x="-10.00" y="0">o</text>
<text style="font-family:'Liberation Mono'" transform="translate(1006.00 373.5) scale(0.814 0.91)" x="-11.00" y="0">r</text>
<text transform="translate(1025.60 373.5) scale(0.906 1)" x="-10.00" y="0">k</text>
<text transform="translate(1044.00 373.5) scale(0.650 1)" x="-4.00" y="0">i</text>
<text transform="translate(1062.50 373.5) scale(0.906 0.91)" x="-10.00" y="0">n</text>
<text transform="translate(1081.90 373.5) scale(0.984 1)" x="-10.00" y="0">g</text>
<text transform="translate(896.90 408.3) scale(0.812 1)" x="-5.00" y="0">I</text>
<text transform="translate(915.90 408.3) scale(0.869 0.91)" x="-10.00" y="0">n</text>
<text transform="translate(934.70 408.3) scale(0.944 1)" x="-10.00" y="0">d</text>
<text transform="translate(953.75 408.3) scale(0.812 1)" x="-4.00" y="0">i</text>
<text transform="translate(971.90 408.3) scale(0.883 0.91)" x="-9.50" y="0">c</text>
<text transform="translate(991.25 408.3) scale(0.806 0.91)" x="-11.00" y="0">a</text>
<text style="font-family:'Liberation Mono'" transform="translate(1010.00 408.3) scale(0.883 1)" x="-10.50" y="0">t</text>
<text transform="translate(1028.50 408.3) scale(0.806 0.91)" x="-10.00" y="0">o</text>
<text style="font-family:'Liberation Mono'" transform="translate(1048.00 408.3) scale(0.750 0.91)" x="-11.00" y="0">r</text>
<text transform="translate(1069.90 408.3) scale(0.625 1)" x="-4.00" y="0">l</text>
<text transform="translate(1088.80 408.3) scale(0.775 1)" x="-4.00" y="0">i</text>
<text transform="translate(1108.00 408.3) scale(0.919 1)" x="-10.00" y="0">g</text>
<text transform="translate(1126.40 408.3) scale(0.953 1)" x="-10.50" y="0">h</text>
<text style="font-family:'Liberation Mono'" transform="translate(1144.70 408.3) scale(0.993 1)" x="-10.50" y="0">t</text>
<text transform="translate(114.60 962.3) scale(0.721 1)" x="-12.50" y="0">P</text>
<text transform="translate(134.20 962.3) scale(0.700 1)" x="-5.00" y="0">I</text>
<text transform="translate(153.00 962.3) scale(0.810 1)" x="-13.50" y="0">R</text>
<text transform="translate(190.40 962.3) scale(0.765 1)" x="-12.00" y="0">S</text>
<text transform="translate(207.90 962.3) scale(0.856 0.91)" x="-10.00" y="0">e</text>
<text transform="translate(226.70 962.3) scale(0.800 0.91)" x="-10.00" y="0">n</text>
<text transform="translate(244.20 962.3) scale(0.700 0.91)" x="-9.00" y="0">s</text>
<text transform="translate(261.70 962.3) scale(0.906 0.91)" x="-10.00" y="0">o</text>
<text style="font-family:'Liberation Mono'" transform="translate(281.50 962.3) scale(0.750 0.91)" x="-11.00" y="0">r</text>
<text transform="translate(914.60 836.2) scale(0.721 1)" x="-12.50" y="0">P</text>
<text transform="translate(934.20 836.2) scale(0.700 1)" x="-5.00" y="0">I</text>
<text transform="translate(953.00 836.2) scale(0.810 1)" x="-13.50" y="0">R</text>
<text transform="translate(990.40 836.2) scale(0.765 1)" x="-12.00" y="0">S</text>
<text transform="translate(1007.90 836.2) scale(0.856 0.91)" x="-10.00" y="0">e</text>
<text transform="translate(1026.70 836.2) scale(0.800 0.91)" x="-10.00" y="0">n</text>
<text transform="translate(1044.20 836.2) scale(0.700 0.91)" x="-9.00" y="0">s</text>
<text transform="translate(1061.70 836.2) scale(0.906 0.91)" x="-10.00" y="0">o</text>
<text style="font-family:'Liberation Mono'" transform="translate(1081.50 836.2) scale(0.750 0.91)" x="-11.00" y="0">r</text>
<text transform="translate(918.70 966.2) scale(0.721 1)" x="-12.50" y="0">P</text>
<text transform="translate(938.30 966.2) scale(0.700 1)" x="-5.00" y="0">I</text>
<text transform="translate(957.10 966.2) scale(0.810 1)" x="-13.50" y="0">R</text>
<text transform="translate(994.50 966.2) scale(0.765 1)" x="-12.00" y="0">S</text>
<text transform="translate(1012.00 966.2) scale(0.856 0.91)" x="-10.00" y="0">e</text>
<text transform="translate(1030.80 966.2) scale(0.800 0.91)" x="-10.00" y="0">n</text>
<text transform="translate(1048.30 966.2) scale(0.700 0.91)" x="-9.00" y="0">s</text>
<text transform="translate(1065.80 966.2) scale(0.906 0.91)" x="-10.00" y="0">o</text>
<text style="font-family:'Liberation Mono'" transform="translate(1085.60 966.2) scale(0.750 0.91)" x="-11.00" y="0">r</text>
</g>

<!-- orange leader lines & dots -->
<g fill="#f29a12" stroke="none">
  <rect x="302" y="392.6" width="272" height="3.4" fill="#e9a020"/>
  <circle cx="572.5" cy="393.8" r="13.5"/>
  <rect x="642" y="396.8" width="241" height="3.4" fill="#e9a020"/>
  <circle cx="642.4" cy="397.5" r="13.5"/>
  <rect x="326" y="464.9" width="162" height="3.4" fill="#e9a020"/>
  <circle cx="488.5" cy="465.7" r="13.5"/>
  <rect x="316" y="659.6" width="270" height="3.4" fill="#e9a020"/>
  <circle cx="585.4" cy="661" r="13.7"/>
  <rect x="560" y="826" width="341" height="3.2" fill="#e9a020"/>
  <circle cx="560.3" cy="826.7" r="13.5"/>
  <rect x="297.5" y="951" width="172" height="3.2" fill="#e9a020"/>
  <circle cx="469.2" cy="952.9" r="13.5"/>
  <rect x="738" y="954" width="163" height="3.2" fill="#e9a020"/>
  <circle cx="738" cy="956.9" r="13.5"/>
</g>
</svg>
</body></html>
